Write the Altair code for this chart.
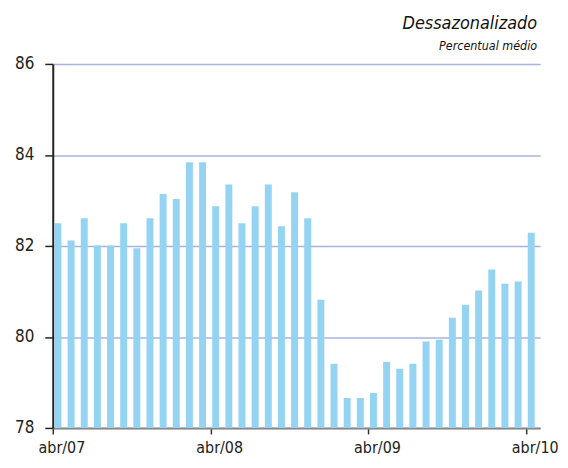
import altair as alt
import pandas as pd

months = [
    "abr/07", "mai/07", "jun/07", "jul/07", "ago/07", "set/07", "out/07", "nov/07", "dez/07",
    "jan/08", "fev/08", "mar/08", "abr/08", "mai/08", "jun/08", "jul/08", "ago/08", "set/08",
    "out/08", "nov/08", "dez/08", "jan/09", "fev/09", "mar/09", "abr/09", "mai/09", "jun/09",
    "jul/09", "ago/09", "set/09", "out/09", "nov/09", "dez/09", "jan/10", "fev/10", "mar/10",
    "abr/10",
]
values = [
    82.50, 82.12, 82.61, 82.01, 82.01, 82.50, 81.95, 82.61, 83.14,
    83.03, 83.84, 83.84, 82.87, 83.35, 82.50, 82.87, 83.35, 82.43,
    83.18, 82.61, 80.82, 79.41, 78.66, 78.66, 78.77, 79.45, 79.30,
    79.41, 79.90, 79.94, 80.42, 80.71, 81.02, 81.48, 81.17, 81.22,
    82.29,
]
tick_labels = ["abr/07", "abr/08", "abr/09", "abr/10"]
y_ticks = [78, 80, 82, 84, 86]

df = pd.DataFrame({"mes": months, "valor": values})

FONT = "'DejaVu Sans Condensed', 'Liberation Sans Narrow', sans-serif"

chart = (
    alt.Chart(df)
    .mark_bar(color="#94d4f2", clip=True)
    .encode(
        x=alt.X(
            "mes:N",
            sort=months,
            scale=alt.Scale(paddingInner=0.47, paddingOuter=0.27, align=0.24),
            axis=alt.Axis(
                title=None,
                values=tick_labels,
                bandPosition=0,
                tickOffset=-1.5,
                labelOffset=5,
                labelAngle=0,
                labelFontSize=16,
                labelColor="#222222",
                labelFont=FONT,
                labelPadding=6,
                tickSize=6,
                tickColor="#333333",
                tickWidth=1.5,
                domainColor="#888888",
                domainWidth=2,
                grid=False,
            ),
        ),
        y=alt.Y(
            "valor:Q",
            scale=alt.Scale(domain=[78, 86], zero=False, nice=False),
            axis=alt.Axis(
                title=None,
                values=y_ticks,
                labelFontSize=17,
                labelColor="#222222",
                labelFont=FONT,
                labelPadding=11,
                tickSize=8,
                tickColor="#222222",
                tickWidth=1.5,
                domainColor="#222222",
                domainWidth=2,
                grid=True,
                gridColor="#a9b3dc",
                gridWidth=1.5,
            ),
        ),
    )
    .properties(
        width=490,
        height=366,
        autosize=alt.AutoSizeParams(type="none"),
        padding={"left": 45, "top": 55, "right": 20, "bottom": 30},
        title=alt.TitleParams(
            text="Dessazonalizado",
            subtitle="Percentual médio",
            anchor="end",
            frame="group",
            dx=-3,
            font=FONT,
            fontSize=18,
            fontStyle="italic",
            fontWeight="normal",
            color="#111111",
            subtitleFont=FONT,
            subtitleFontSize=12.5,
            subtitleFontStyle="italic",
            subtitleColor="#111111",
            subtitlePadding=7,
            offset=3,
        ),
    )
    .configure_view(stroke=None)
)

chart.save("out.html", embed_options={"renderer": "svg", "actions": False})
